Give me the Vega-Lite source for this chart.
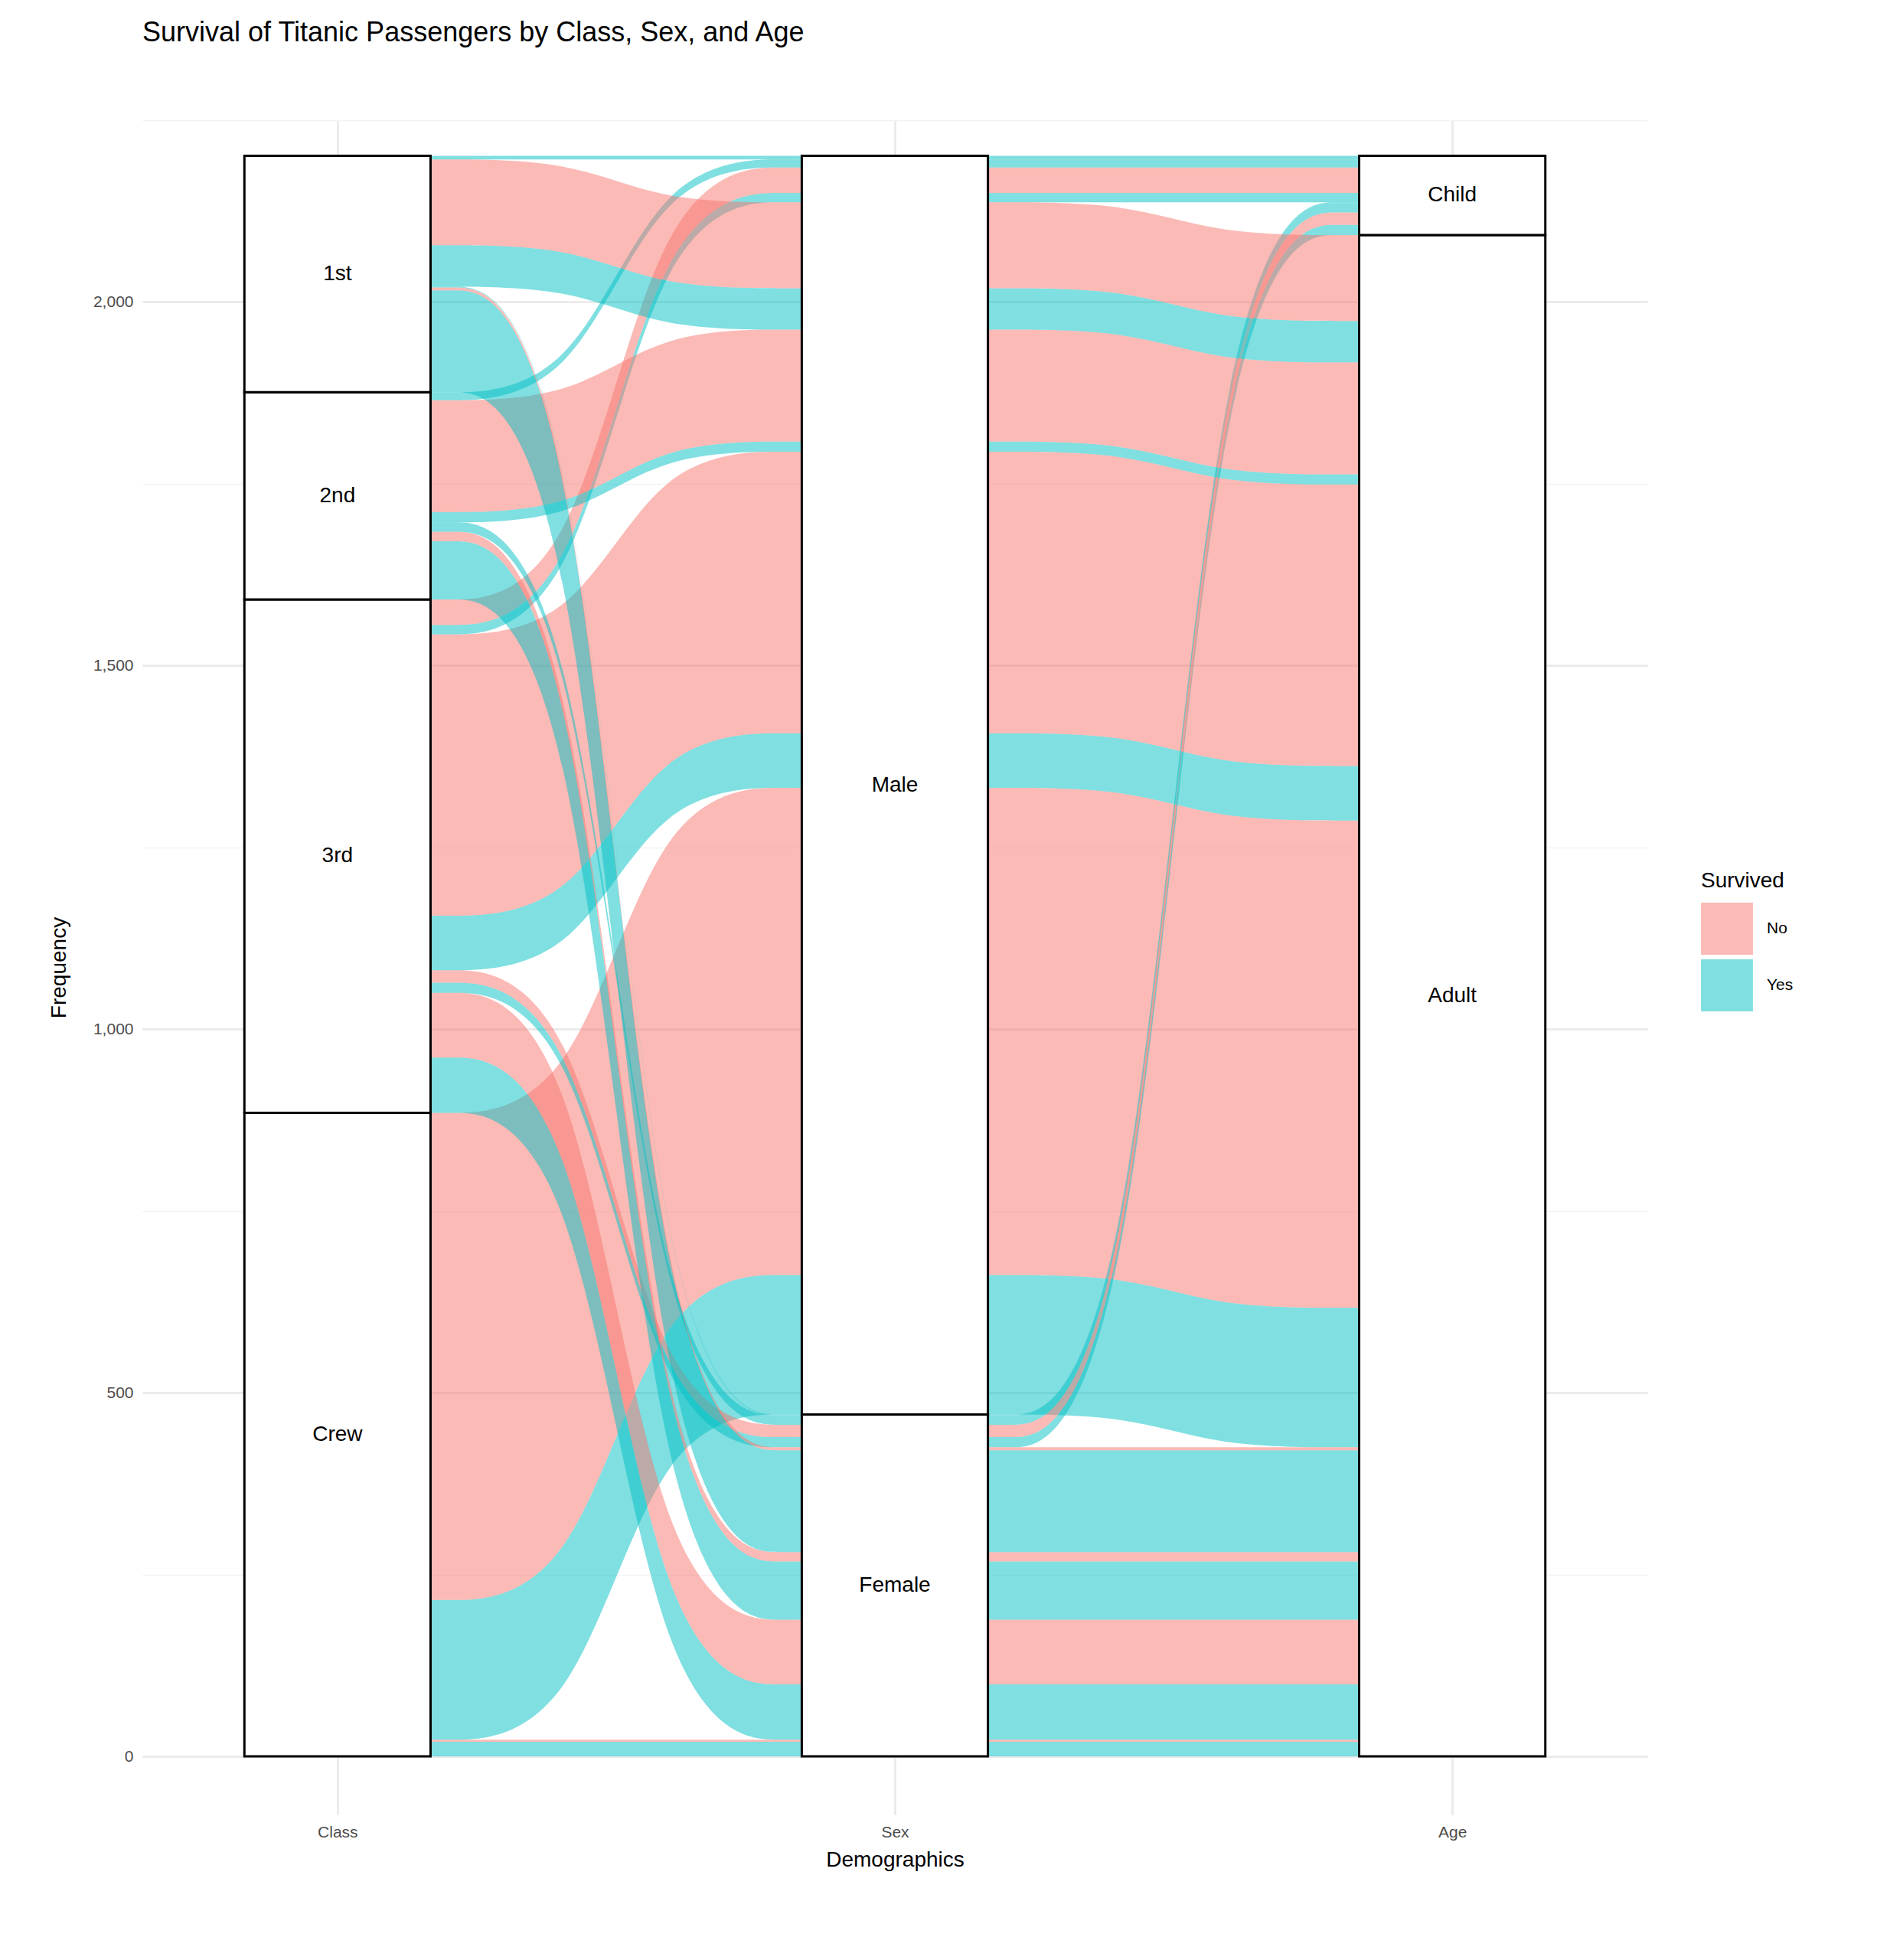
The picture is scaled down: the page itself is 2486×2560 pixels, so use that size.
{
  "$schema": "https://vega.github.io/schema/vega-lite/v6.json",
  "width": 1966,
  "height": 2213,
  "autosize": "none",
  "padding": {"left": 186, "top": 157, "right": 334, "bottom": 190},
  "background": "white",
  "title": {"text": "Survival of Titanic Passengers by Class, Sex, and Age", "anchor": "start", "frame": "group", "fontSize": 36, "font": "Liberation Sans", "fontWeight": "normal", "color": "black", "offset": 95},
  "datasets": {
    "flows": [
      {"k":"1a","s":"Yes","x":1.167,"lo":0,"hi":20},{"k":"1a","s":"Yes","x":1.833,"lo":0,"hi":20},
      {"k":"1b","s":"Yes","x":2.167,"lo":0,"hi":20},{"k":"1b","s":"Yes","x":2.833,"lo":0,"hi":20},
      {"k":"2a","s":"No","x":1.167,"lo":20,"hi":23},{"k":"2a","s":"No","x":1.833,"lo":20,"hi":23},
      {"k":"2b","s":"No","x":2.167,"lo":20,"hi":23},{"k":"2b","s":"No","x":2.833,"lo":20,"hi":23},
      {"k":"3a","s":"Yes","x":1.167,"lo":23,"hi":215},{"k":"3a","s":"Yes","x":1.42,"lo":23,"hi":215},{"k":"3a","s":"Yes","x":1.58,"lo":470,"hi":662},{"k":"3a","s":"Yes","x":1.833,"lo":470,"hi":662},
      {"k":"3b","s":"Yes","x":2.167,"lo":470,"hi":662},{"k":"3b","s":"Yes","x":2.42,"lo":470,"hi":662},{"k":"3b","s":"Yes","x":2.58,"lo":425,"hi":617},{"k":"3b","s":"Yes","x":2.833,"lo":425,"hi":617},
      {"k":"4a","s":"No","x":1.167,"lo":215,"hi":885},{"k":"4a","s":"No","x":1.42,"lo":215,"hi":885},{"k":"4a","s":"No","x":1.58,"lo":662,"hi":1332},{"k":"4a","s":"No","x":1.833,"lo":662,"hi":1332},
      {"k":"4b","s":"No","x":2.167,"lo":662,"hi":1332},{"k":"4b","s":"No","x":2.42,"lo":662,"hi":1332},{"k":"4b","s":"No","x":2.58,"lo":617,"hi":1287},{"k":"4b","s":"No","x":2.833,"lo":617,"hi":1287},
      {"k":"5a","s":"Yes","x":1.167,"lo":885,"hi":961},{"k":"5a","s":"Yes","x":1.42,"lo":885,"hi":961},{"k":"5a","s":"Yes","x":1.58,"lo":23,"hi":99},{"k":"5a","s":"Yes","x":1.833,"lo":23,"hi":99},
      {"k":"5b","s":"Yes","x":2.167,"lo":23,"hi":99},{"k":"5b","s":"Yes","x":2.833,"lo":23,"hi":99},
      {"k":"6a","s":"No","x":1.167,"lo":961,"hi":1050},{"k":"6a","s":"No","x":1.42,"lo":961,"hi":1050},{"k":"6a","s":"No","x":1.58,"lo":99,"hi":188},{"k":"6a","s":"No","x":1.833,"lo":99,"hi":188},
      {"k":"6b","s":"No","x":2.167,"lo":99,"hi":188},{"k":"6b","s":"No","x":2.833,"lo":99,"hi":188},
      {"k":"7a","s":"Yes","x":1.167,"lo":1050,"hi":1064},{"k":"7a","s":"Yes","x":1.42,"lo":1050,"hi":1064},{"k":"7a","s":"Yes","x":1.58,"lo":425,"hi":439},{"k":"7a","s":"Yes","x":1.833,"lo":425,"hi":439},
      {"k":"7b","s":"Yes","x":2.167,"lo":425,"hi":439},{"k":"7b","s":"Yes","x":2.42,"lo":425,"hi":439},{"k":"7b","s":"Yes","x":2.58,"lo":2092,"hi":2106},{"k":"7b","s":"Yes","x":2.833,"lo":2092,"hi":2106},
      {"k":"8a","s":"No","x":1.167,"lo":1064,"hi":1081},{"k":"8a","s":"No","x":1.42,"lo":1064,"hi":1081},{"k":"8a","s":"No","x":1.58,"lo":439,"hi":456},{"k":"8a","s":"No","x":1.833,"lo":439,"hi":456},
      {"k":"8b","s":"No","x":2.167,"lo":439,"hi":456},{"k":"8b","s":"No","x":2.42,"lo":439,"hi":456},{"k":"8b","s":"No","x":2.58,"lo":2106,"hi":2123},{"k":"8b","s":"No","x":2.833,"lo":2106,"hi":2123},
      {"k":"9a","s":"Yes","x":1.167,"lo":1081,"hi":1156},{"k":"9a","s":"Yes","x":1.42,"lo":1081,"hi":1156},{"k":"9a","s":"Yes","x":1.58,"lo":1332,"hi":1407},{"k":"9a","s":"Yes","x":1.833,"lo":1332,"hi":1407},
      {"k":"9b","s":"Yes","x":2.167,"lo":1332,"hi":1407},{"k":"9b","s":"Yes","x":2.42,"lo":1332,"hi":1407},{"k":"9b","s":"Yes","x":2.58,"lo":1287,"hi":1362},{"k":"9b","s":"Yes","x":2.833,"lo":1287,"hi":1362},
      {"k":"10a","s":"No","x":1.167,"lo":1156,"hi":1543},{"k":"10a","s":"No","x":1.42,"lo":1156,"hi":1543},{"k":"10a","s":"No","x":1.58,"lo":1407,"hi":1794},{"k":"10a","s":"No","x":1.833,"lo":1407,"hi":1794},
      {"k":"10b","s":"No","x":2.167,"lo":1407,"hi":1794},{"k":"10b","s":"No","x":2.42,"lo":1407,"hi":1794},{"k":"10b","s":"No","x":2.58,"lo":1362,"hi":1749},{"k":"10b","s":"No","x":2.833,"lo":1362,"hi":1749},
      {"k":"11a","s":"Yes","x":1.167,"lo":1543,"hi":1556},{"k":"11a","s":"Yes","x":1.42,"lo":1543,"hi":1556},{"k":"11a","s":"Yes","x":1.58,"lo":2137,"hi":2150},{"k":"11a","s":"Yes","x":1.833,"lo":2137,"hi":2150},
      {"k":"11b","s":"Yes","x":2.167,"lo":2137,"hi":2150},{"k":"11b","s":"Yes","x":2.833,"lo":2137,"hi":2150},
      {"k":"12a","s":"No","x":1.167,"lo":1556,"hi":1591},{"k":"12a","s":"No","x":1.42,"lo":1556,"hi":1591},{"k":"12a","s":"No","x":1.58,"lo":2150,"hi":2185},{"k":"12a","s":"No","x":1.833,"lo":2150,"hi":2185},
      {"k":"12b","s":"No","x":2.167,"lo":2150,"hi":2185},{"k":"12b","s":"No","x":2.833,"lo":2150,"hi":2185},
      {"k":"13a","s":"Yes","x":1.167,"lo":1591,"hi":1671},{"k":"13a","s":"Yes","x":1.42,"lo":1591,"hi":1671},{"k":"13a","s":"Yes","x":1.58,"lo":188,"hi":268},{"k":"13a","s":"Yes","x":1.833,"lo":188,"hi":268},
      {"k":"13b","s":"Yes","x":2.167,"lo":188,"hi":268},{"k":"13b","s":"Yes","x":2.833,"lo":188,"hi":268},
      {"k":"14a","s":"No","x":1.167,"lo":1671,"hi":1684},{"k":"14a","s":"No","x":1.42,"lo":1671,"hi":1684},{"k":"14a","s":"No","x":1.58,"lo":268,"hi":281},{"k":"14a","s":"No","x":1.833,"lo":268,"hi":281},
      {"k":"14b","s":"No","x":2.167,"lo":268,"hi":281},{"k":"14b","s":"No","x":2.833,"lo":268,"hi":281},
      {"k":"15a","s":"Yes","x":1.167,"lo":1684,"hi":1697},{"k":"15a","s":"Yes","x":1.42,"lo":1684,"hi":1697},{"k":"15a","s":"Yes","x":1.58,"lo":456,"hi":469},{"k":"15a","s":"Yes","x":1.833,"lo":456,"hi":469},
      {"k":"15b","s":"Yes","x":2.167,"lo":456,"hi":469},{"k":"15b","s":"Yes","x":2.42,"lo":456,"hi":469},{"k":"15b","s":"Yes","x":2.58,"lo":2123,"hi":2136},{"k":"15b","s":"Yes","x":2.833,"lo":2123,"hi":2136},
      {"k":"16a","s":"Yes","x":1.167,"lo":1697,"hi":1711},{"k":"16a","s":"Yes","x":1.42,"lo":1697,"hi":1711},{"k":"16a","s":"Yes","x":1.58,"lo":1794,"hi":1808},{"k":"16a","s":"Yes","x":1.833,"lo":1794,"hi":1808},
      {"k":"16b","s":"Yes","x":2.167,"lo":1794,"hi":1808},{"k":"16b","s":"Yes","x":2.42,"lo":1794,"hi":1808},{"k":"16b","s":"Yes","x":2.58,"lo":1749,"hi":1763},{"k":"16b","s":"Yes","x":2.833,"lo":1749,"hi":1763},
      {"k":"17a","s":"No","x":1.167,"lo":1711,"hi":1865},{"k":"17a","s":"No","x":1.42,"lo":1711,"hi":1865},{"k":"17a","s":"No","x":1.58,"lo":1808,"hi":1962},{"k":"17a","s":"No","x":1.833,"lo":1808,"hi":1962},
      {"k":"17b","s":"No","x":2.167,"lo":1808,"hi":1962},{"k":"17b","s":"No","x":2.42,"lo":1808,"hi":1962},{"k":"17b","s":"No","x":2.58,"lo":1763,"hi":1917},{"k":"17b","s":"No","x":2.833,"lo":1763,"hi":1917},
      {"k":"18a","s":"Yes","x":1.167,"lo":1865,"hi":1876},{"k":"18a","s":"Yes","x":1.42,"lo":1865,"hi":1876},{"k":"18a","s":"Yes","x":1.58,"lo":2185,"hi":2196},{"k":"18a","s":"Yes","x":1.833,"lo":2185,"hi":2196},
      {"k":"18b","s":"Yes","x":2.167,"lo":2185,"hi":2196},{"k":"18b","s":"Yes","x":2.833,"lo":2185,"hi":2196},
      {"k":"19a","s":"Yes","x":1.167,"lo":1876,"hi":2016},{"k":"19a","s":"Yes","x":1.42,"lo":1876,"hi":2016},{"k":"19a","s":"Yes","x":1.58,"lo":281,"hi":421},{"k":"19a","s":"Yes","x":1.833,"lo":281,"hi":421},
      {"k":"19b","s":"Yes","x":2.167,"lo":281,"hi":421},{"k":"19b","s":"Yes","x":2.833,"lo":281,"hi":421},
      {"k":"20a","s":"No","x":1.167,"lo":2016,"hi":2020},{"k":"20a","s":"No","x":1.42,"lo":2016,"hi":2020},{"k":"20a","s":"No","x":1.58,"lo":421,"hi":425},{"k":"20a","s":"No","x":1.833,"lo":421,"hi":425},
      {"k":"20b","s":"No","x":2.167,"lo":421,"hi":425},{"k":"20b","s":"No","x":2.833,"lo":421,"hi":425},
      {"k":"21a","s":"Yes","x":1.167,"lo":2020,"hi":2021},{"k":"21a","s":"Yes","x":1.42,"lo":2020,"hi":2021},{"k":"21a","s":"Yes","x":1.58,"lo":469,"hi":470},{"k":"21a","s":"Yes","x":1.833,"lo":469,"hi":470},
      {"k":"21b","s":"Yes","x":2.167,"lo":469,"hi":470},{"k":"21b","s":"Yes","x":2.42,"lo":469,"hi":470},{"k":"21b","s":"Yes","x":2.58,"lo":2136,"hi":2137},{"k":"21b","s":"Yes","x":2.833,"lo":2136,"hi":2137},
      {"k":"22a","s":"Yes","x":1.167,"lo":2021,"hi":2078},{"k":"22a","s":"Yes","x":1.42,"lo":2021,"hi":2078},{"k":"22a","s":"Yes","x":1.58,"lo":1962,"hi":2019},{"k":"22a","s":"Yes","x":1.833,"lo":1962,"hi":2019},
      {"k":"22b","s":"Yes","x":2.167,"lo":1962,"hi":2019},{"k":"22b","s":"Yes","x":2.42,"lo":1962,"hi":2019},{"k":"22b","s":"Yes","x":2.58,"lo":1917,"hi":1974},{"k":"22b","s":"Yes","x":2.833,"lo":1917,"hi":1974},
      {"k":"23a","s":"No","x":1.167,"lo":2078,"hi":2196},{"k":"23a","s":"No","x":1.42,"lo":2078,"hi":2196},{"k":"23a","s":"No","x":1.58,"lo":2019,"hi":2137},{"k":"23a","s":"No","x":1.833,"lo":2019,"hi":2137},
      {"k":"23b","s":"No","x":2.167,"lo":2019,"hi":2137},{"k":"23b","s":"No","x":2.42,"lo":2019,"hi":2137},{"k":"23b","s":"No","x":2.58,"lo":1974,"hi":2092},{"k":"23b","s":"No","x":2.833,"lo":1974,"hi":2092},
      {"k":"24a","s":"Yes","x":1.167,"lo":2196,"hi":2201},{"k":"24a","s":"Yes","x":1.833,"lo":2196,"hi":2201},
      {"k":"24b","s":"Yes","x":2.167,"lo":2196,"hi":2201},{"k":"24b","s":"Yes","x":2.833,"lo":2196,"hi":2201}
    ],
    "strata": [
      {"ax":1,"x0":0.833,"x1":1.167,"lo":0,"hi":885,"mid":442.5,"label":"Crew"},
      {"ax":1,"x0":0.833,"x1":1.167,"lo":885,"hi":1591,"mid":1238,"label":"3rd"},
      {"ax":1,"x0":0.833,"x1":1.167,"lo":1591,"hi":1876,"mid":1733.5,"label":"2nd"},
      {"ax":1,"x0":0.833,"x1":1.167,"lo":1876,"hi":2201,"mid":2038.5,"label":"1st"},
      {"ax":2,"x0":1.833,"x1":2.167,"lo":0,"hi":470,"mid":235,"label":"Female"},
      {"ax":2,"x0":1.833,"x1":2.167,"lo":470,"hi":2201,"mid":1335.5,"label":"Male"},
      {"ax":3,"x0":2.833,"x1":3.167,"lo":0,"hi":2092,"mid":1046,"label":"Adult"},
      {"ax":3,"x0":2.833,"x1":3.167,"lo":2092,"hi":2201,"mid":2146.5,"label":"Child"}
    ]
  },
  "layer": [
    {
      "data": {"name": "flows"},
      "mark": {"type": "area", "interpolate": "basis", "opacity": 0.5},
      "encoding": {
        "x": {"field": "x", "type": "quantitative", "scale": {"domain": [0.65, 3.35], "nice": false, "zero": false},
          "axis": {"values": [1, 2, 3], "labelExpr": "datum.value == 1 ? 'Class' : datum.value == 2 ? 'Sex' : 'Age'", "title": "Demographics", "grid": true, "gridColor": "#EBEBEB", "gridWidth": 3, "domain": false, "ticks": false, "labelFontSize": 21, "labelColor": "#4D4D4D", "labelPadding": 12, "titleFontSize": 28, "titleFontWeight": "normal", "titleColor": "black", "titlePadding": 12, "labelFont": "Liberation Sans", "titleFont": "Liberation Sans"}},
        "y": {"field": "lo", "type": "quantitative", "scale": {"domain": [-80, 2250], "nice": false, "zero": false},
          "axis": {"values": [0, 250, 500, 750, 1000, 1250, 1500, 1750, 2000, 2250], "labelExpr": "datum.value % 500 == 0 ? datum.label : ''", "title": "Frequency", "grid": true, "gridColor": {"condition": {"test": "datum.value % 500 == 0", "value": "#EBEBEB"}, "value": "#F3F3F3"}, "gridWidth": {"condition": {"test": "datum.value % 500 == 0", "value": 3}, "value": 1.6}, "domain": false, "ticks": false, "labelFontSize": 21, "labelColor": "#4D4D4D", "labelPadding": 12, "titleFontSize": 28, "titleFontWeight": "normal", "titleColor": "black", "titlePadding": 30, "labelFont": "Liberation Sans", "titleFont": "Liberation Sans"}},
        "y2": {"field": "hi"},
        "detail": {"field": "k"},
        "color": {"field": "s", "type": "nominal", "scale": {"domain": ["No", "Yes"], "range": ["#F8766D", "#00BFC4"]},
          "legend": {"title": "Survived", "orient": "none", "legendX": 2036, "legendY": 980, "symbolType": "square", "symbolSize": 4600, "symbolOpacity": 0.5, "symbolStrokeWidth": 0, "titleFontSize": 28, "titleFontWeight": "normal", "titleColor": "black", "labelFontSize": 21, "labelColor": "black", "titlePadding": 14, "rowPadding": 6, "labelOffset": 18, "titleFont": "Liberation Sans", "labelFont": "Liberation Sans"}}
      }
    },
    {
      "data": {"name": "strata"},
      "mark": {"type": "rect", "fill": "white", "stroke": "black", "strokeWidth": 3},
      "encoding": {
        "x": {"field": "x0", "type": "quantitative"},
        "x2": {"field": "x1"},
        "y": {"field": "lo", "type": "quantitative"},
        "y2": {"field": "hi"}
      }
    },
    {
      "data": {"name": "strata"},
      "mark": {"type": "text", "fontSize": 28, "font": "Liberation Sans", "color": "black"},
      "encoding": {
        "x": {"field": "ax", "type": "quantitative"},
        "y": {"field": "mid", "type": "quantitative"},
        "text": {"field": "label"}
      }
    }
  ],
  "config": {"view": {"stroke": null}}
}
